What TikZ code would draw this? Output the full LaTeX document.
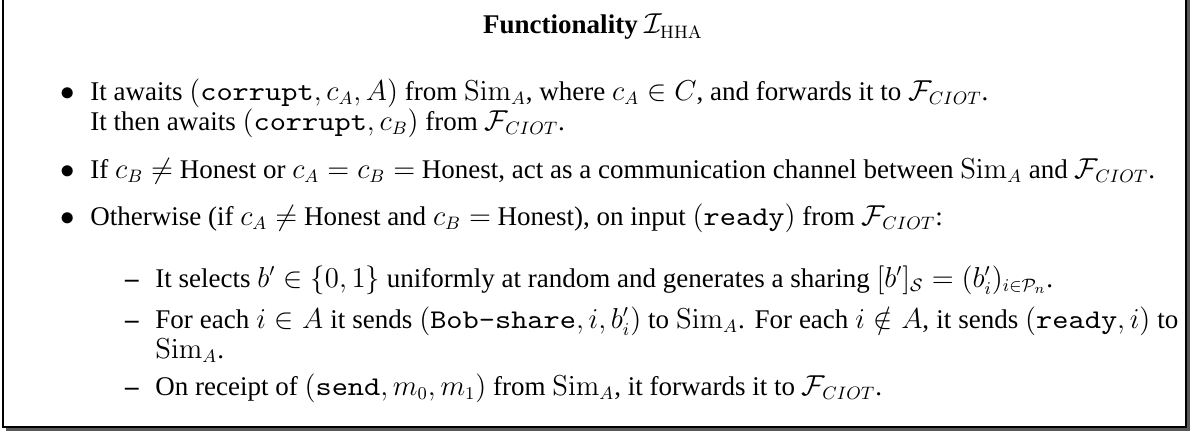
\documentclass[tikz,border=0pt]{standalone}
\usepackage[no-math]{fontspec}
\setmainfont{Liberation Serif}
\setmonofont{lmmono10-regular.otf}[FakeStretch=1.143]
\usepackage{amsmath}
\newcommand{\Fciot}{\mathcal{F}_{CIOT}}
\newcommand{\SimA}{\mathrm{Sim}_A}
\tikzset{
  line/.style={font=\fontsize{13.5}{15}\selectfont, anchor=base west, inner sep=0pt},
  mark bullet/.style={font=\fontsize{13.5}{15}\selectfont, anchor=base, inner sep=0pt},
}
\begin{document}
\begin{tikzpicture}[x=0.5pt,y=-0.5pt]
        \useasboundingbox (0,0) rectangle (1192,433);
        \clip (0,0) rectangle (1192,433);
        % frame with shadow
        \fill[gray!70!black] (6,-10) rectangle (1189.5,430.5);
        \fill[white] (3,-10) rectangle (1186,427);
        \draw[line width=0.6pt] (3,-10) rectangle (1186,427);
        \node[font=\fontsize{13.5}{15}\selectfont, anchor=base, inner sep=0pt] (title) at (593,34) {\textbf{Functionality} $\mathcal{I}_{\mathrm{HHA}}$};
        % first level
        \node[mark bullet] (b1) at (68,100) {$\bullet$};
        \node[line] (l1) at (90,100) {It awaits $(\texttt{corrupt}, c_A, A)$ from $\SimA$, where $c_A \in C$, and forwards it to $\Fciot$.};
        \node[line] (l2) at (90,130) {It then awaits $(\texttt{corrupt}, c_B)$ from $\Fciot$.};
        \node[mark bullet] (b2) at (68,178) {$\bullet$};
        \node[line] (l3) at (90,178) {If $c_B \neq$ Honest or $c_A = c_B =$ Honest, act as a communication channel between $\SimA$ and $\Fciot$.};
        \node[mark bullet] (b3) at (68,225) {$\bullet$};
        \node[line] (l4) at (90,225) {Otherwise (if $c_A \neq$ Honest and $c_B =$ Honest), on input $(\texttt{ready})$ from $\Fciot$:};
        % second level
        \node[mark bullet] (d1) at (132,287) {\textbf{--}};
        \node[line] (s1) at (155,287) {It selects $b' \in \{0,1\}$ uniformly at random and generates a sharing $[b']_{\mathcal{S}} = (b'_i)_{i\in\mathcal{P}_n}$.};
        \node[mark bullet] (d2) at (132,328) {\textbf{--}};
        \node[line] (s2) at (155,328) {\makebox[511.5pt][s]{For each $i \in A$ it sends $(\texttt{Bob-share}, i, b'_i)$ to $\SimA$. For each $i \notin A$, it sends $(\texttt{ready}, i)$ to}};
        \node[line] (s3) at (155,358) {$\SimA$.};
        \node[mark bullet] (d3) at (132,395) {\textbf{--}};
        \node[line] (s4) at (155,395) {On receipt of $(\texttt{send}, m_0, m_1)$ from $\SimA$, it forwards it to $\Fciot$.};
    \end{tikzpicture}
\end{document}
